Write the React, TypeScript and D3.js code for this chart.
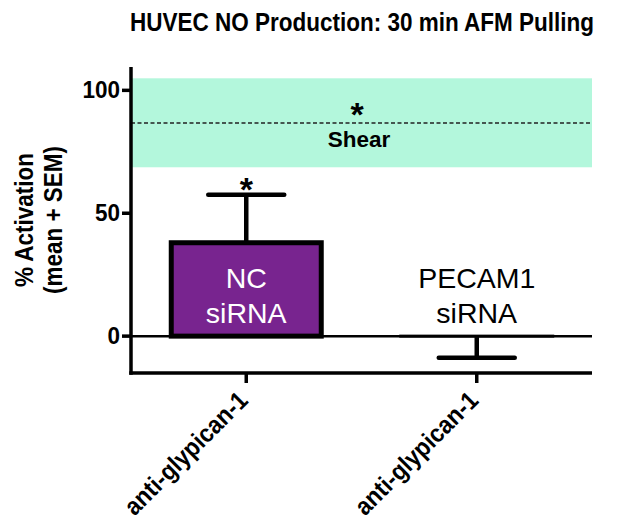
import * as d3 from "d3";

const groups = ["NC", "PECAM1"];
const barLines = [["NC", "siRNA"], ["PECAM1", "siRNA"]];
const xLabels = ["anti-glypican-1", "anti-glypican-1"];
const means = [38.0, -0.4];
const sems = [19.5, 8.4];
const starred = [true, false];
const yTicks = [0, 50, 100];
const shearMean = 86.7;
const shearLow = 68.7;
const shearHigh = 104.9;

const W = 618, H = 519;
const FONT = "Liberation Sans, Arial, sans-serif";

export default function App() {
  const y = d3.scaleLinear().domain([-15, 109.5]).range([373, 67]);
  const x = d3.scalePoint<string>().domain(groups).range([131, 592]).padding(0.5);
  const barW = 155;
  const capW = 80;
  const left = 131, right = 592;

  return (
    <svg width={W} height={H} style={{ position: "absolute", left: 0, top: 0 }} fontFamily={FONT}>
      <rect width={W} height={H} fill="#fff" />
      {/* title, glyphs a bit taller than wide like the original */}
      <text transform="translate(362,31) scale(1,1.17)" textAnchor="middle" fontWeight="bold" fontSize={22.5}>
        HUVEC NO Production: 30 min AFM Pulling
      </text>

      {/* shear band */}
      <rect x={left} y={y(shearHigh)} width={right - left} height={y(shearLow) - y(shearHigh)} fill="#b3f7dc" />
      <line x1={left} x2={right} y1={y(shearMean)} y2={y(shearMean)} stroke="#222" strokeWidth={1.4} strokeDasharray="4,2.5" />
      <text x={357} y={y(shearMean) + 3} textAnchor="middle" fontWeight="bold" fontSize={34}>*</text>
      <text x={359} y={y(shearMean) + 24} textAnchor="middle" fontWeight="bold" fontSize={22.5}>Shear</text>

      {/* bars */}
      {groups.map((g, i) => {
        const cx = x(g)!;
        const top = y(Math.max(means[i], 0));
        const h = Math.abs(y(means[i]) - y(0));
        const end = means[i] >= 0 ? means[i] + sems[i] : means[i] - sems[i];
        return (
          <g key={g}>
            {i === 0 ? (
              <rect x={cx - barW / 2 + 2.5} y={top} width={barW - 5} height={h} fill="#78248f" stroke="#000" strokeWidth={5} />
            ) : (
              <rect x={cx - barW / 2} y={top - 1.5} width={barW} height={Math.max(h, 3)} fill="#000" />
            )}
            <line x1={cx} x2={cx} y1={y(means[i])} y2={y(end)} stroke="#000" strokeWidth={4.5} />
            <line x1={cx - capW / 2 + 2} x2={cx + capW / 2 - 2} y1={y(end)} y2={y(end)} stroke="#000" strokeWidth={4.5} strokeLinecap="round" />
            {starred[i] && (
              <text x={cx} y={y(end) + 6} textAnchor="middle" fontWeight="bold" fontSize={34}>*</text>
            )}
            {barLines[i].map((t, k) => (
              <text key={k} x={cx} y={288 + k * 35} textAnchor="middle" fontSize={28.5} fill={i === 0 ? "#fff" : "#000"}>
                {t}
              </text>
            ))}
          </g>
        );
      })}

      {/* zero line */}
      <line x1={left} x2={right} y1={y(0)} y2={y(0)} stroke="#000" strokeWidth={2.5} />

      {/* y axis */}
      <line x1={left} x2={left} y1={y(109.5)} y2={y(-15) + 1.75} stroke="#000" strokeWidth={3.5} />
      {yTicks.map((t) => (
        <g key={t}>
          <line x1={left - 9} x2={left} y1={y(t)} y2={y(t)} stroke="#000" strokeWidth={3.5} />
          <text transform={`translate(${left - 11},${y(t) + 8}) scale(1,1.08)`} textAnchor="end" fontWeight="bold" fontSize={22.5}>{t}</text>
        </g>
      ))}
      <text transform={`translate(33,220) rotate(-90) scale(1,1.12)`} textAnchor="middle" fontWeight="bold" fontSize={22.5}>% Activation</text>
      <text transform={`translate(62,220) rotate(-90) scale(1,1.12)`} textAnchor="middle" fontWeight="bold" fontSize={22.5}>(mean + SEM)</text>

      {/* x axis */}
      <line x1={left - 1.75} x2={right} y1={y(-15)} y2={y(-15)} stroke="#000" strokeWidth={3.5} />
      {groups.map((g, i) => {
        const cx = x(g)!;
        return (
          <g key={g}>
            <line x1={cx} x2={cx} y1={y(-15)} y2={y(-15) + 10} stroke="#000" strokeWidth={3.5} />
            <text transform={`translate(${cx + 3},${y(-15) + 29}) rotate(-45) scale(1,1.1)`} textAnchor="end" fontWeight="bold" fontSize={23}>
              {xLabels[i]}
            </text>
          </g>
        );
      })}
    </svg>
  );
}
